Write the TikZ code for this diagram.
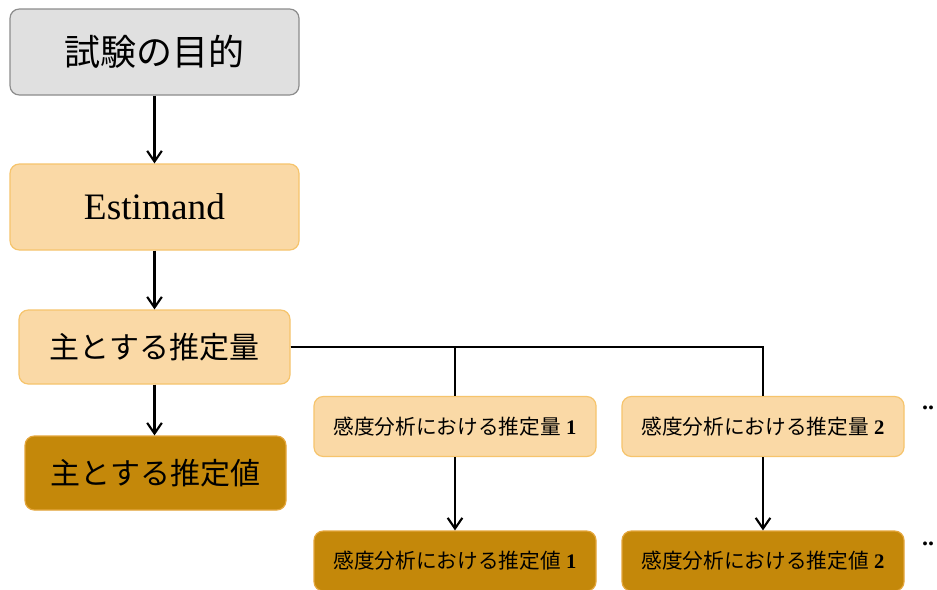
\documentclass[tikz,border=0pt]{standalone}
\usepackage{fontspec}
\setmainfont{Liberation Serif}
\newfontfamily\jp{Noto Sans CJK JP}
\usepackage{xcolor}
\usepackage{tikz}
\usetikzlibrary{arrows.meta}
\usetikzlibrary{positioning}
\definecolor{grau}{RGB}{224,224,224}
\definecolor{graurand}{RGB}{140,140,140}
\definecolor{hell}{RGB}{250,217,166}
\definecolor{hellrand}{RGB}{246,196,108}
\definecolor{dunkel}{RGB}{196,136,10}
\definecolor{dunkelrand}{RGB}{228,166,60}

\begin{document}
\begin{tikzpicture}[
  x=0.75pt, y=-0.75pt,
  box/.style={draw, rounded corners=7pt, line width=0.9pt, align=center, inner sep=0pt},
  goalbox/.style={box, fill=grau, draw=graurand, minimum width=216.75pt, minimum height=64.5pt, font=\jp\fontsize{27}{30}\selectfont},
  estbox/.style={box, fill=hell, draw=hellrand, minimum width=216.75pt, minimum height=64.5pt, font=\fontsize{28}{32}\selectfont},
  qbox/.style={box, fill=hell, draw=hellrand, minimum height=55.5pt, font=\jp\fontsize{22.5}{26}\selectfont},
  vbox/.style={box, fill=dunkel, draw=dunkelrand, minimum height=55.5pt, font=\jp\fontsize{22.5}{26}\selectfont},
  sqbox/.style={qbox, minimum width=211.5pt, minimum height=45pt, font=\fontsize{15.5}{18}\selectfont},
  svbox/.style={vbox, minimum width=211.5pt, minimum height=45pt, font=\fontsize{15.5}{18}\selectfont},
  pfeil/.style={-{Straight Barb[length=8pt,width=11pt]}, line width=1.6pt},
  linie/.style={line width=1.6pt}]
  \clip (0,0) rectangle (937,589);
  \fill[white] (0,0) rectangle (937,589);
  \node[goalbox] (goal) at (154.5,52) {試験の目的};
  \node[estbox] (est) at (154.5,207) {Estimand};
  \node[qbox, minimum width=203.25pt] (mainq) at (154.5,347) {主とする推定量};
  \node[vbox, minimum width=195.75pt] (mainv) at (155.5,473) {主とする推定値};
  \node[sqbox] (sensq1) at (455,426.5) {{\jp 感度分析における推定量} \textbf{1}};
  \node[sqbox] (sensq2) at (763,426.5) {{\jp 感度分析における推定量} \textbf{2}};
  \node[svbox] (sensv1) at (455,561) {{\jp 感度分析における推定値} \textbf{1}};
  \node[svbox] (sensv2) at (763,561) {{\jp 感度分析における推定値} \textbf{2}};
  \node[font=\bfseries\fontsize{18}{20}\selectfont] (more1) at (928,408) {..};
  \node[font=\bfseries\fontsize{18}{20}\selectfont] (more2) at (928,544) {..};
  \draw[pfeil] (goal) -- (est);
  \draw[pfeil] (est) -- (mainq);
  \draw[pfeil] (mainq.south) -- (mainq.south |- mainv.north);
  \draw[linie] (mainq.east) -| (sensq1.north);
  \draw[linie] (mainq.east) -| (sensq2.north);
  \draw[pfeil] (sensq1) -- (sensv1);
  \draw[pfeil] (sensq2) -- (sensv2);
\end{tikzpicture}
\end{document}
